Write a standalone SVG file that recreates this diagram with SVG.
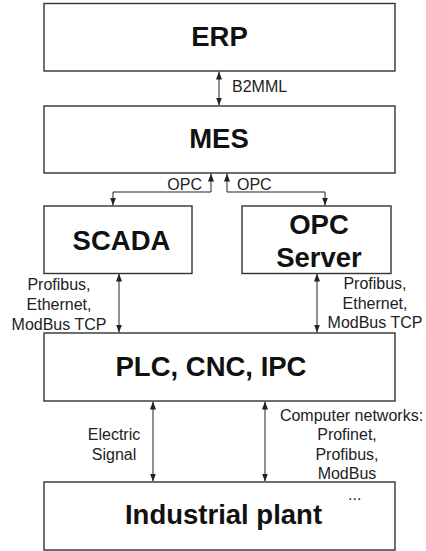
<svg xmlns="http://www.w3.org/2000/svg" width="426" height="551" viewBox="0 0 426 551">
<defs>
<marker id="ah" viewBox="0 0 8 6" refX="8" refY="3" markerWidth="8" markerHeight="6" markerUnits="userSpaceOnUse" orient="auto-start-reverse">
<path d="M0,0 L8,3 L0,6 Z" fill="#222"/>
</marker>
<style>
.box{fill:#fff;stroke:#333;stroke-width:1.4}
.t{font-family:"Liberation Sans",Arial,sans-serif;font-weight:bold;font-size:27.5px;fill:#111;text-anchor:middle}
.l{font-family:"Liberation Sans",Arial,sans-serif;font-size:16px;fill:#222}
.c{stroke:#222;stroke-width:1;fill:none;marker-start:url(#ah);marker-end:url(#ah)}
</style>
</defs>
<rect width="426" height="551" fill="#fff"/>
<g id="connectors">
<line class="c" x1="219" y1="71.5" x2="219" y2="105.5"/>
<path class="c" d="M113,205.5 V192 H211 V173.5"/>
<path class="c" d="M227,173.5 V192 H325 V205.5"/>
<line class="c" x1="119" y1="273.5" x2="119" y2="332.5"/>
<line class="c" x1="317" y1="273.5" x2="317" y2="332.5"/>
<line class="c" x1="153" y1="401.5" x2="153" y2="481.5"/>
<line class="c" x1="265" y1="401.5" x2="265" y2="481.5"/>
</g>
<g id="erp"><rect class="box" x="44" y="3.5" width="351" height="67.5"/><text class="t" x="219.5" y="45.5">ERP</text></g>
<g id="mes"><rect class="box" x="44" y="106" width="351" height="67"/><text class="t" x="219" y="148">MES</text></g>
<g id="scada"><rect class="box" x="44" y="206" width="148" height="67.5"/><text class="t" x="121.5" y="250">SCADA</text></g>
<g id="opcserver"><rect class="box" x="242" y="206" width="149" height="67.5"/><text class="t" x="319" y="233.5">OPC</text><text class="t" x="319" y="267">Server</text></g>
<g id="plc"><rect class="box" x="44" y="333" width="351" height="68"/><text class="t" x="211" y="375.5">PLC, CNC, IPC</text></g>
<g id="plant"><rect class="box" x="44" y="482" width="351" height="68"/><text class="t" x="223.5" y="524">Industrial plant</text></g>
<g id="labels">
<text class="l" x="232" y="92">B2MML</text>
<text class="l" x="202" y="190" text-anchor="end">OPC</text>
<text class="l" x="237" y="190">OPC</text>
<g class="l" text-anchor="middle">
<text x="59" y="290">Profibus,</text>
<text x="59" y="310">Ethernet,</text>
<text x="59" y="329.5">ModBus TCP</text>
<text x="375" y="288.5">Profibus,</text>
<text x="375" y="308.5">Ethernet,</text>
<text x="375" y="328">ModBus TCP</text>
<text x="114" y="440">Electric</text>
<text x="114" y="460">Signal</text>
<text x="351.5" y="421">Computer networks:</text>
<text x="347" y="440">Profinet,</text>
<text x="347" y="460">Profibus,</text>
<text x="347" y="479">ModBus</text>
</g>
<text class="l" x="348" y="500">...</text>
</g>
</svg>
